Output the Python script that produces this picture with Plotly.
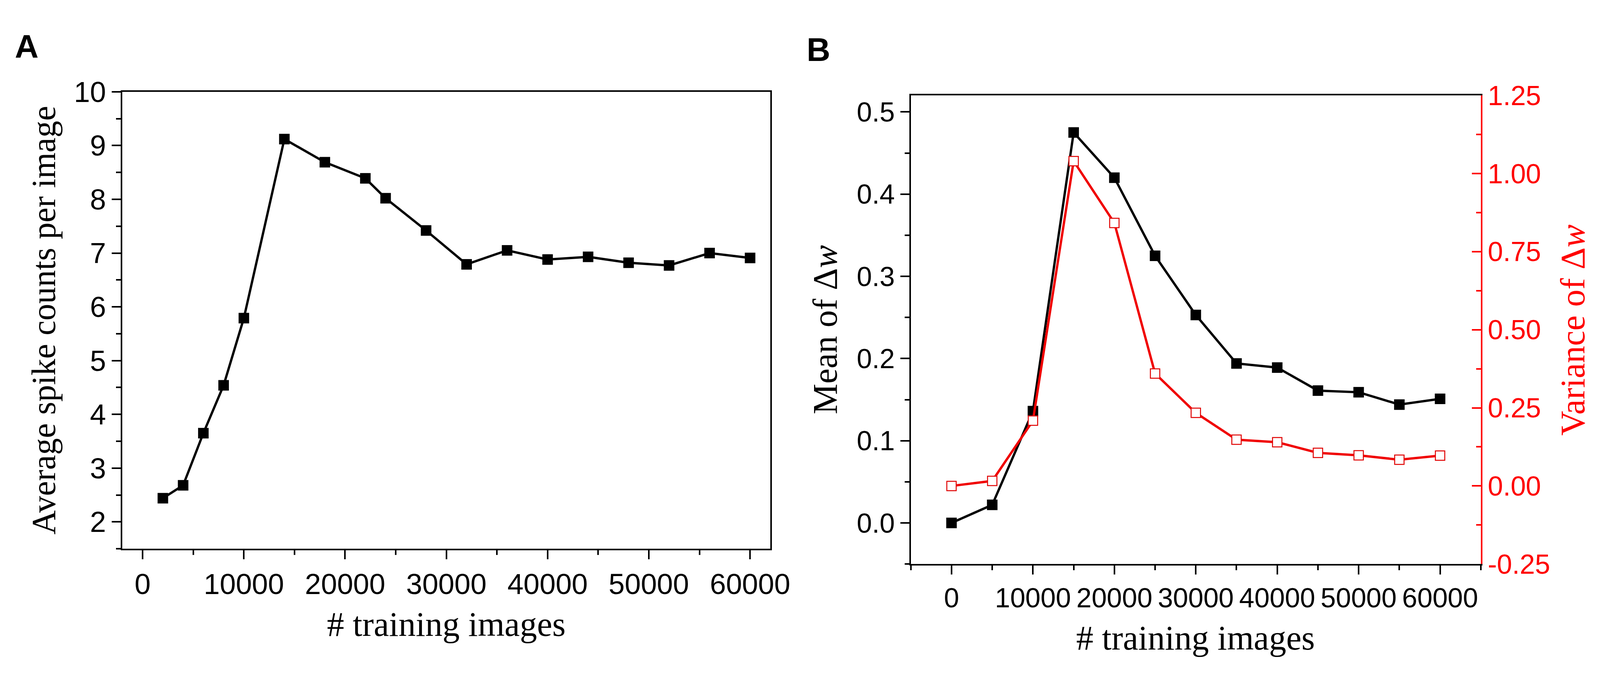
import plotly.graph_objects as go

"""DATA"""
train_a = [2000, 4000, 6000, 8000, 10000, 14000, 18000, 22000, 24000, 28000,
           32000, 36000, 40000, 44000, 48000, 52000, 56000, 60000]
spike_counts = [2.44, 2.68, 3.65, 4.54, 5.79, 9.12, 8.69, 8.39, 8.02, 7.42,
                6.79, 7.05, 6.88, 6.93, 6.82, 6.77, 7.00, 6.91]

train_b = [0, 5000, 10000, 15000, 20000, 25000, 30000, 35000, 40000, 45000,
           50000, 55000, 60000]
mean_dw = [0.0, 0.022, 0.136, 0.475, 0.420, 0.325, 0.253, 0.194, 0.189,
           0.161, 0.159, 0.144, 0.151]
var_dw = [0.0, 0.016, 0.209, 1.04, 0.842, 0.36, 0.234, 0.148, 0.140,
          0.106, 0.098, 0.084, 0.097]

x_ticks = [0, 10000, 20000, 30000, 40000, 50000, 60000]
var_ticks = [-0.25, 0.0, 0.25, 0.5, 0.75, 1.0, 1.25]

W, H = 4146, 1722
RED = "#ff0000"
SANS = "Liberation Sans, Arial, sans-serif"
SERIF = "Liberation Serif, Times New Roman, serif"


def px_x(p):
    return p / W


def px_y(p):
    return 1 - p / H


fig = go.Figure()

"""PANEL A"""
fig.add_trace(go.Scatter(x=train_a, y=spike_counts, mode="lines+markers",
                         line=dict(color="black", width=6),
                         marker=dict(symbol="square", size=27, color="black"),
                         xaxis="x", yaxis="y", showlegend=False))

"""PANEL B"""
fig.add_trace(go.Scatter(x=train_b, y=mean_dw, mode="lines+markers",
                         line=dict(color="black", width=6),
                         marker=dict(symbol="square", size=27, color="black"),
                         xaxis="x2", yaxis="y2", showlegend=False))
fig.add_trace(go.Scatter(x=train_b, y=var_dw, mode="lines+markers",
                         line=dict(color="#f00000", width=6),
                         marker=dict(symbol="square", size=24, color="white",
                                     line=dict(color="#e00000", width=2.5)),
                         xaxis="x2", yaxis="y3", showlegend=False))

tickfont = dict(family=SANS, size=74, color="black")
common = dict(showline=True, linewidth=4, linecolor="black", ticks="outside",
              ticklen=23, tickwidth=4, tickcolor="black", showgrid=False,
              zeroline=False, tickfont=tickfont)
tickfont_b = dict(family=SANS, size=70, color="black")

fig.update_layout(
    width=W, height=H,
    margin=dict(l=0, r=0, t=0, b=0),
    paper_bgcolor="white", plot_bgcolor="white",
    xaxis=dict(domain=[px_x(309), px_x(1988)], range=[-2000, 62000],
               tickvals=x_ticks, tickformat="d",
               mirror=True, anchor="y",
               minor=dict(dtick=5000, tick0=0, ticks="outside", ticklen=12,
                          tickwidth=4, tickcolor="black"),
               **common),
    yaxis=dict(domain=[px_y(1422), px_y(195)], range=[1.5, 10], dtick=1,
               mirror=True, anchor="x",
               minor=dict(dtick=0.5, tick0=0, ticks="outside", ticklen=12,
                          tickwidth=4, tickcolor="black"),
               **common),
    xaxis2=dict(domain=[px_x(2352), px_x(3829)], range=[-5000, 65000],
                tickvals=x_ticks, tickformat="d",
                mirror=True, anchor="y2",
                minor=dict(dtick=5000, tick0=0, ticks="outside", ticklen=12,
                           tickwidth=4, tickcolor="black"),
                **{**common, "tickfont": tickfont_b}),
    yaxis2=dict(domain=[px_y(1463), px_y(205)], range=[-0.05, 0.52], dtick=0.1,
                tickformat=".1f", anchor="x2",
                minor=dict(dtick=0.05, tick0=0, ticks="outside", ticklen=12,
                           tickwidth=4, tickcolor="black"),
                **{**common, "tickfont": tickfont_b}),
    yaxis3=dict(domain=[px_y(1463), px_y(205)], range=[-0.25, 1.25],
                tickvals=var_ticks, ticktext=[f"{v:.2f}" for v in var_ticks],
                overlaying="y2", side="right", anchor="x2",
                showline=True, linewidth=4, linecolor=RED, ticks="inside",
                ticklen=23, tickwidth=4, tickcolor=RED, showgrid=False,
                zeroline=False, tickfont=dict(family=SANS, size=70, color=RED),
                minor=dict(dtick=0.125, tick0=0, ticks="inside", ticklen=12,
                           tickwidth=4, tickcolor=RED)),
)

"""TITLES AND PANEL LABELS"""
notes = [
    dict(text="<b>A</b>", x=px_x(28), y=px_y(22), xanchor="left", yanchor="top",
         font=dict(family=SANS, size=84, color="black")),
    dict(text="<b>B</b>", x=px_x(2080), y=px_y(30), xanchor="left", yanchor="top",
         font=dict(family=SANS, size=84, color="black")),
    dict(text="Average spike counts per image", x=px_x(105), y=px_y(808),
         textangle=-90, xanchor="center", yanchor="middle",
         font=dict(family=SERIF, size=86, color="black")),
    dict(text="# training images", x=px_x(1148), y=px_y(1625),
         xanchor="center", yanchor="middle",
         font=dict(family=SERIF, size=88, color="black")),
    dict(text="Mean of Δ<i>w</i>", x=px_x(2130), y=px_y(834),
         textangle=-90, xanchor="center", yanchor="middle",
         font=dict(family=SERIF, size=88, color="black")),
    dict(text="Variance of Δ<i>w</i>", x=px_x(4068), y=px_y(834),
         textangle=-90, xanchor="center", yanchor="middle",
         font=dict(family=SERIF, size=88, color=RED)),
    dict(text="# training images", x=px_x(3090), y=px_y(1662),
         xanchor="center", yanchor="middle",
         font=dict(family=SERIF, size=88, color="black")),
]
for n in notes:
    fig.add_annotation(xref="paper", yref="paper", showarrow=False, **n)

fig.write_html("out.html")
